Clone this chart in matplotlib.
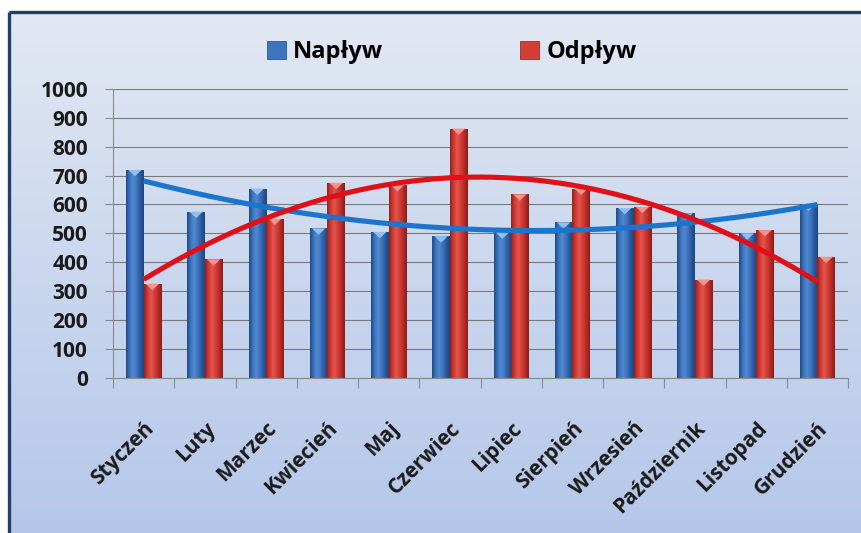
import numpy as np
import matplotlib
matplotlib.use("Agg")
import matplotlib.pyplot as plt
from matplotlib.colors import LinearSegmentedColormap
from matplotlib.patches import Patch, Polygon

months = ["Styczeń", "Luty", "Marzec", "Kwiecień", "Maj", "Czerwiec",
          "Lipiec", "Sierpień", "Wrzesień", "Październik", "Listopad", "Grudzień"]
naplyw = [720, 575, 655, 517, 505, 490, 503, 538, 588, 569, 500, 600]
odplyw = [325, 410, 551, 675, 667, 863, 635, 655, 592, 340, 511, 419]
series_names = ["Napływ", "Odpływ"]
yticks = list(range(0, 1001, 100))

FONT = "Open Sans"
W, H = 861, 533
fig = plt.figure(figsize=(W / 100, H / 100), dpi=100)

# background with gradient and navy frame
bg = fig.add_axes([0, 0, 1, 1], zorder=-10)
bg.set_xlim(0, 1)
bg.set_ylim(0, 1)
bg.axis("off")
bgcmap = LinearSegmentedColormap.from_list("bg", ["#b5c7e9", "#cad7ee", "#e3e8f3"])
grad = np.linspace(0, 1, 256).reshape(-1, 1)
x0f, y1f = 8.5 / W, 1 - 11.5 / H
bg.imshow(grad, cmap=bgcmap, origin="lower", aspect="auto",
          extent=[x0f, 1, 0, y1f], zorder=0)
bg.plot([x0f, 1], [y1f, y1f], color="#1f3f6e", lw=2.4, solid_capstyle="butt", zorder=2)
bg.plot([x0f, x0f], [0, y1f], color="#1f3f6e", lw=2.4, solid_capstyle="butt", zorder=2)

ax = fig.add_axes([113 / W, 1 - 377.7 / H, (848 - 113) / W, (377.7 - 89) / H])
ax.patch.set_alpha(0)

x = np.arange(len(months))
bw = 0.286

blue_cmap = LinearSegmentedColormap.from_list(
    "b", ["#1e4a86", "#3c74be", "#5189d0", "#3e74bd", "#2a5b9c", "#1d467f"])
red_cmap = LinearSegmentedColormap.from_list(
    "r", ["#9a1f1b", "#cf3b34", "#e4544d", "#d23e37", "#b42c27", "#901b17"])

hgrad = np.linspace(0, 1, 64).reshape(1, -1)


def glossy_bars(xpos, vals, cmap, face, hl):
    bars = ax.bar(xpos, vals, width=bw, color=face, edgecolor="none", zorder=2)
    for b in bars:
        bx, by = b.get_x(), b.get_y()
        bwid, bh = b.get_width(), b.get_height()
        im = ax.imshow(hgrad, cmap=cmap, aspect="auto",
                       extent=[bx, bx + bwid, by, by + bh], zorder=2.1)
        im.set_clip_path(b)
        tri = Polygon([[bx + 0.12 * bwid, bh], [bx + 0.88 * bwid, bh],
                       [bx + 0.5 * bwid, bh - 22]], closed=True,
                      facecolor=hl, edgecolor="none", zorder=2.2)
        ax.add_patch(tri)
    return bars


glossy_bars(x - bw / 2, naplyw, blue_cmap, "#3c74be", "#8fc0ef")
glossy_bars(x + bw / 2, odplyw, red_cmap, "#d23e37", "#f3958e")

# polynomial trendlines (as in the spreadsheet chart)
xs = np.linspace(0, len(months) - 1, 300)
pb = np.polyfit(x, naplyw, 2)
pr = np.polyfit(x, odplyw, 2)
ax.plot(xs, np.polyval(pb, xs), color="#1b75cc", lw=3.7, zorder=3,
        solid_capstyle="butt")
ax.plot(xs, np.polyval(pr, xs), color="#e01018", lw=3.7, zorder=3,
        solid_capstyle="butt")

ax.set_xlim(-0.5, len(months) - 0.5)
ax.set_ylim(0, 1000)
ax.set_yticks(yticks)
ax.set_yticklabels([str(v) for v in yticks], fontfamily=FONT, fontweight="bold",
                   fontsize=15, color="#1a1a1a")
ax.yaxis.grid(True, color="#7a7a7a", lw=0.8)
ax.set_axisbelow(True)
ax.tick_params(axis="y", length=6, width=0.8, color="#8a8a8a", pad=12)

ax.set_xticks(x)
ax.set_xticklabels(months, rotation=45, ha="right", rotation_mode="anchor",
                   fontfamily=FONT, fontweight="bold", fontsize=15, color="#1a1a1a")
ax.tick_params(axis="x", which="major", length=0, pad=29)
ax.set_xticks(np.arange(-0.5, len(months), 1), minor=True)
ax.tick_params(axis="x", which="minor", length=7, width=0.8, color="#8a8a8a")

for s in ["top", "right"]:
    ax.spines[s].set_visible(False)
for s in ["left", "bottom"]:
    ax.spines[s].set_color("#8a8a8a")
    ax.spines[s].set_linewidth(0.8)

handles = [Patch(facecolor="#3c74be", edgecolor="#2a5b9c", lw=0.6),
           Patch(facecolor="#d23e37", edgecolor="#a82823", lw=0.6)]
fig.legend(handles, series_names, loc="center", bbox_to_anchor=(452 / W, 1 - 52 / H),
           ncol=2, frameon=False, handlelength=0.8, handleheight=0.8,
           handletextpad=0.3, columnspacing=5.8,
           prop={"family": FONT, "weight": "bold", "size": 17})

fig.savefig("out.png", dpi=100)
